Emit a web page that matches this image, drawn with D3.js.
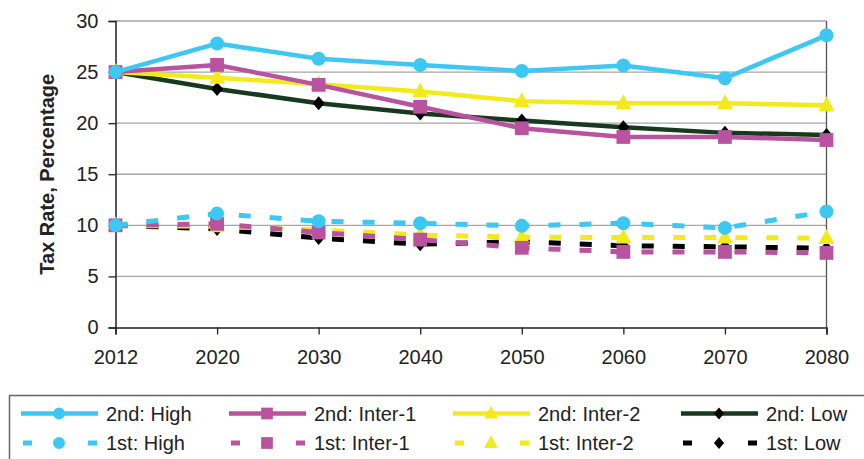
<!DOCTYPE html>
<html>
<head>
<meta charset="utf-8">
<script src="https://cdn.jsdelivr.net/npm/d3@7"></script>
<style>
  body { margin: 0; background: #fff; overflow: hidden; }
  svg { font-family: "Liberation Sans", Arial, sans-serif; display: block; }
</style>
</head>
<body>
<div id="chart"></div>
<script>
const width = 864;
const height = 459;

const years = ["2012", "2020", "2030", "2040", "2050", "2060", "2070", "2080"];
const yTicks = [0, 5, 10, 15, 20, 25, 30];

const high2 = [25, 27.8, 26.3, 25.7, 25.1, 25.65, 24.4, 28.6];
const inter1_2 = [25, 25.7, 23.75, 21.6, 19.5, 18.65, 18.65, 18.35];
const inter2_2 = [25, 24.45, 23.8, 23.1, 22.15, 21.95, 21.95, 21.75];
const low2 = [25, 23.35, 21.95, 20.95, 20.25, 19.6, 19.05, 18.85];

const high1 = [10, 11.15, 10.4, 10.2, 9.95, 10.2, 9.75, 11.35];
const inter1_1 = [10, 10.15, 9.3, 8.6, 7.8, 7.4, 7.4, 7.3];
const inter2_1 = [10, 9.9, 9.55, 9.05, 8.85, 8.8, 8.8, 8.75];
const low1 = [10, 9.65, 8.75, 8.15, 8.4, 8.0, 7.9, 7.75];

const series = [
  { name: "2nd: High", values: high2, color: "#3cc8f2", marker: "circle", dashed: false },
  { name: "2nd: Inter-1", values: inter1_2, color: "#b9529f", marker: "square", dashed: false },
  { name: "2nd: Inter-2", values: inter2_2, color: "#f3ea1c", marker: "triangle", dashed: false },
  { name: "2nd: Low", values: low2, color: "#173a1e", markerColor: "#000", marker: "diamond", dashed: false },
  { name: "1st: High", values: high1, color: "#3cc8f2", marker: "circle", dashed: true },
  { name: "1st: Inter-1", values: inter1_1, color: "#b9529f", marker: "square", dashed: true },
  { name: "1st: Inter-2", values: inter2_1, color: "#f3ea1c", marker: "triangle", dashed: true },
  { name: "1st: Low", values: low1, color: "#000", marker: "diamond", dashed: true },
];

const plotLeft = 115.5;
const plotRight = 826.5;
const plotTop = 21;
const plotBottom = 327.5;

const x = d3.scalePoint().domain(years).range([plotLeft, plotRight]);
const y = d3.scaleLinear().domain([0, 30]).range([plotBottom, plotTop]);

const svg = d3.select("#chart").append("svg")
  .attr("width", width)
  .attr("height", height);

// gridlines
svg.append("g")
  .selectAll("line")
  .data(yTicks.filter((d) => d > 0))
  .join("line")
  .attr("x1", plotLeft)
  .attr("x2", plotRight)
  .attr("y1", (d) => y(d))
  .attr("y2", (d) => y(d))
  .attr("stroke", "#a6a6a6")
  .attr("stroke-width", 1.3);

// right border
svg.append("line")
  .attr("x1", plotRight).attr("x2", plotRight)
  .attr("y1", plotTop).attr("y2", plotBottom)
  .attr("stroke", "#555").attr("stroke-width", 1.3);

// axes
const yAxis = svg.append("g")
  .attr("transform", `translate(${plotLeft},0)`)
  .call(d3.axisLeft(y).tickValues(yTicks).tickSize(7).tickPadding(10));
const xAxis = svg.append("g")
  .attr("transform", `translate(0,${plotBottom})`)
  .call(d3.axisBottom(x).tickSize(7).tickPadding(15));

[yAxis, xAxis].forEach((ax) => {
  ax.select(".domain").attr("stroke", "#222").attr("stroke-width", 1.5);
  ax.selectAll(".tick line").attr("stroke", "#222").attr("stroke-width", 1.3);
  ax.selectAll("text")
    .attr("font-size", 20)
    .attr("fill", "#222")
    .attr("font-family", "Liberation Sans, Arial, sans-serif");
});

svg.append("text")
  .attr("transform", `translate(54,${(plotTop + plotBottom) / 2}) rotate(-90)`)
  .attr("text-anchor", "middle")
  .attr("font-size", 20)
  .attr("font-weight", "bold")
  .attr("fill", "#222")
  .text("Tax Rate, Percentage");

function markerPath(type) {
  switch (type) {
    case "circle": return d3.symbol(d3.symbolCircle, 154)();
    case "square": return d3.symbol(d3.symbolSquare, 190)();
    case "triangle": return "M0,-9L8,6L-8,6Z";
    case "diamond": return "M0,-7L6,0L0,7L-6,0Z";
  }
}

const line = d3.line()
  .x((d, i) => x(years[i]))
  .y((d) => y(d));

// dashed series under the solid ones
const drawOrder = [7, 6, 5, 4, 3, 2, 1, 0];
drawOrder.forEach((idx) => {
  const s = series[idx];
  const g = svg.append("g");
  g.append("path")
    .datum(s.values)
    .attr("fill", "none")
    .attr("stroke", s.color)
    .attr("stroke-width", s.dashed ? 5 : 4.5)
    .attr("stroke-dasharray", s.dashed ? "12,19" : null)
    .attr("d", line);
  g.selectAll("path.marker")
    .data(s.values)
    .join("path")
    .attr("class", "marker")
    .attr("transform", (d, i) => `translate(${x(years[i])},${y(d)})`)
    .attr("d", markerPath(s.marker))
    .attr("fill", s.markerColor || s.color);
});

// legend
const legend = svg.append("g");
legend.append("rect")
  .attr("x", 9.5).attr("y", 395.5)
  .attr("width", 870).attr("height", 80)
  .attr("fill", "#fff")
  .attr("stroke", "#666")
  .attr("stroke-width", 1.5);

const colX = [21, 229, 453, 681];
const rowY = [413.5, 443];

series.forEach((s, i) => {
  const cx = colX[i % 4];
  const cy = rowY[Math.floor(i / 4)];
  const item = legend.append("g").attr("transform", `translate(${cx},${cy})`);
  if (s.dashed) {
    item.selectAll("rect.dash")
      .data([2, 67])
      .join("rect")
      .attr("x", (d) => d)
      .attr("y", -2.5)
      .attr("width", 9)
      .attr("height", 5)
      .attr("fill", s.color);
  } else {
    item.append("line")
      .attr("x1", 0).attr("x2", 77)
      .attr("stroke", s.color)
      .attr("stroke-width", 4.5);
  }
  item.append("path")
    .attr("transform", "translate(38,0) scale(0.85)")
    .attr("d", markerPath(s.marker))
    .attr("fill", s.markerColor || s.color);
  item.append("text")
    .attr("x", 85)
    .attr("y", 0)
    .attr("dy", "0.35em")
    .attr("font-size", 20)
    .attr("fill", "#222")
    .text(s.name);
});
</script>
</body>
</html>
